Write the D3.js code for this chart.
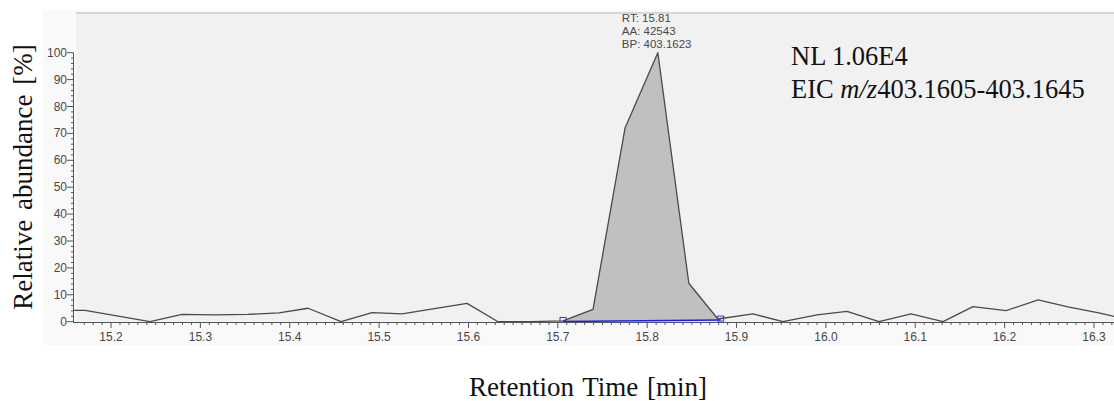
<!DOCTYPE html>
<html lang="en">
  <head>
    <meta charset="utf-8">
    <title>EIC chromatogram</title>
    <style>
      body { margin: 0; background: #fff; }
      .tick-label { font-family: 'Liberation Sans', Arial, sans-serif; font-size: 12px; fill: #484848; }
      .serif { font-family: 'Liberation Serif', 'Times New Roman', serif; fill: #111; }
    </style>
  </head>
  <body>
    <div id="chart-area"></div>
    <script src="https://cdn.jsdelivr.net/npm/d3@7"></script>
    <script>
      const svg_width = 1114;
      const svg_height = 401;

      // retention time (min) and relative abundance (%)
      const times = [15.1575, 15.171, 15.2436, 15.2795, 15.3164, 15.3533, 15.388, 15.4205,
        15.4574, 15.4921, 15.5256, 15.5984, 15.6331, 15.6689, 15.7058, 15.7394, 15.7752,
        15.8119, 15.8466, 15.8791, 15.9184, 15.952, 15.99, 16.0236, 16.0594, 16.0953,
        16.1311, 16.1646, 16.2016, 16.2374, 16.2709, 16.3067, 16.3347];
      const abundance = [4.2, 4.2, 0, 2.7, 2.5, 2.7, 3.3, 5.0,
        0, 3.4, 2.9, 6.8, 0, 0, 0.3, 4.6, 72,
        100, 14.3, 1.0, 2.9, 0, 2.5, 3.8, 0, 2.9,
        0, 5.6, 4.1, 8.1, 5.5, 3.2, 1.0];

      const x_ticks = [15.2, 15.3, 15.4, 15.5, 15.6, 15.7, 15.8, 15.9, 16.0, 16.1, 16.2, 16.3];
      const y_ticks = [0, 10, 20, 30, 40, 50, 60, 70, 80, 90, 100];

      // integrated peak
      const peak_label = ['RT: 15.81', 'AA: 42543', 'BP: 403.1623'];
      const peak_rt = 15.8119;
      const integ_start = [15.7058, 0.1];  // [time, baseline %]
      const integ_end = [15.8822, 0.6];

      const info_lines = ['NL 1.06E4', 'EIC '];

      const x_scale = d3.scaleLinear()
        .domain([15.1608, 16.3224])
        .range([76, 1114]);
      const y_scale = d3.scaleLinear()
        .domain([0, 100])
        .range([321.7, 52.7]);

      const svg = d3.select('#chart-area')
        .append('svg')
        .attr('width', svg_width)
        .attr('height', svg_height);

      // outer panel + plot area
      svg.append('rect')
        .attr('x', 43).attr('y', 10)
        .attr('width', svg_width - 43).attr('height', 335)
        .attr('fill', '#f9f9f9');
      svg.append('rect')
        .attr('x', 76).attr('y', 13)
        .attr('width', svg_width - 76).attr('height', 322 - 13)
        .attr('fill', '#f1f1f1');
      svg.append('line')
        .attr('x1', 76).attr('x2', svg_width)
        .attr('y1', 13).attr('y2', 13)
        .attr('stroke', '#d6d6d6').attr('stroke-width', 2);

      svg.append('clipPath').attr('id', 'plot-clip')
        .append('rect')
        .attr('x', 74).attr('y', 13)
        .attr('width', svg_width - 74).attr('height', 310);

      const data = times.map((t, i) => ({t: t, v: abundance[i]}));

      // baseline of the integration as a function of time
      const base_at = d3.scaleLinear()
        .domain([integ_start[0], integ_end[0]])
        .range([integ_start[1], integ_end[1]]);
      const trace_at = (t) => {
        const i = d3.bisector(d => d.t).right(data, t);
        const a = data[i - 1], b = data[i];
        return a.v + (b.v - a.v) * (t - a.t) / (b.t - a.t);
      };
      const peak_data = [{t: integ_start[0], v: trace_at(integ_start[0])}]
        .concat(data.filter(d => d.t > integ_start[0] && d.t < integ_end[0]))
        .concat([{t: integ_end[0], v: trace_at(integ_end[0])}]);

      const plot = svg.append('g').attr('clip-path', 'url(#plot-clip)');

      plot.append('path')
        .datum(peak_data)
        .attr('fill', '#c0c0c0')
        .attr('d', d3.area()
          .x(d => x_scale(d.t))
          .y0(d => y_scale(base_at(d.t)))
          .y1(d => y_scale(d.v)));

      plot.append('path')
        .datum(data)
        .attr('fill', 'none')
        .attr('stroke', '#4a4a4a')
        .attr('stroke-width', 1.3)
        .attr('stroke-linejoin', 'round')
        .attr('d', d3.line().x(d => x_scale(d.t)).y(d => y_scale(d.v)));

      // integration baseline and end markers
      plot.append('line')
        .attr('x1', x_scale(integ_start[0])).attr('y1', y_scale(integ_start[1]))
        .attr('x2', x_scale(integ_end[0])).attr('y2', y_scale(integ_end[1]))
        .attr('stroke', '#1a1aff').attr('stroke-width', 1.5);
      [integ_start, integ_end].forEach(p => {
        plot.append('rect')
          .attr('x', x_scale(p[0]) - 3).attr('y', y_scale(p[1]) - 4)
          .attr('width', 6).attr('height', 5)
          .attr('fill', 'none')
          .attr('stroke', '#3030ff').attr('stroke-width', 1);
      });

      // y axis
      svg.append('line')
        .attr('x1', 73.5).attr('x2', 73.5)
        .attr('y1', y_scale(100)).attr('y2', y_scale(0) + 1)
        .attr('stroke', '#555');
      d3.range(0, 101, 2).forEach(v => {
        const major = v % 10 === 0;
        svg.append('line')
          .attr('x1', major ? 67 : 71).attr('x2', 73.5)
          .attr('y1', y_scale(v)).attr('y2', y_scale(v))
          .attr('stroke', '#555');
      });
      svg.selectAll('.y-label')
        .data(y_ticks)
        .enter()
        .append('text')
        .attr('class', 'tick-label')
        .attr('x', 67)
        .attr('y', d => y_scale(d) + 4)
        .attr('text-anchor', 'end')
        .text(d => d);

      // x axis
      svg.append('line')
        .attr('x1', 73).attr('x2', svg_width)
        .attr('y1', 322.5).attr('y2', 322.5)
        .attr('stroke', '#555');
      // minor ticks every 0.01 min, major at each label
      d3.range(15170, 16330, 10).forEach(m => {
        const t = m / 1000;
        svg.append('line')
          .attr('x1', x_scale(t)).attr('x2', x_scale(t))
          .attr('y1', 322.5).attr('y2', m % 100 === 0 ? 328 : 325)
          .attr('stroke', '#555');
      });
      svg.selectAll('.x-label')
        .data(x_ticks)
        .enter()
        .append('text')
        .attr('class', 'tick-label')
        .attr('x', d => x_scale(d))
        .attr('y', 341)
        .attr('text-anchor', 'middle')
        .text(d => d.toFixed(1));

      // peak annotation
      svg.selectAll('.peak-label')
        .data(peak_label)
        .enter()
        .append('text')
        .attr('class', 'tick-label')
        .style('font-size', '11.5px')
        .attr('x', x_scale(peak_rt) - 36)
        .attr('y', (d, i) => 22 + i * 13.2)
        .text(d => d);

      // NL / EIC info
      svg.append('text')
        .attr('class', 'serif')
        .attr('x', 791).attr('y', 65)
        .style('font-size', '26.5px')
        .text(info_lines[0]);
      const eic = svg.append('text')
        .attr('class', 'serif')
        .attr('x', 791).attr('y', 98)
        .style('font-size', '26.5px');
      eic.append('tspan').text(info_lines[1]);
      eic.append('tspan').style('font-style', 'italic').text('m/z');
      eic.append('tspan').text('403.1605-403.1645');

      // axis titles
      svg.append('text')
        .attr('class', 'serif')
        .attr('transform', 'translate(32,177) rotate(-90)')
        .attr('text-anchor', 'middle')
        .style('font-size', '27px')
        .style('word-spacing', '3px')
        .text('Relative abundance [%]');
      svg.append('text')
        .attr('class', 'serif')
        .attr('x', 588).attr('y', 396)
        .attr('text-anchor', 'middle')
        .style('font-size', '27px')
        .style('word-spacing', '2px')
        .text('Retention Time [min]');
    </script>
  </body>
</html>
